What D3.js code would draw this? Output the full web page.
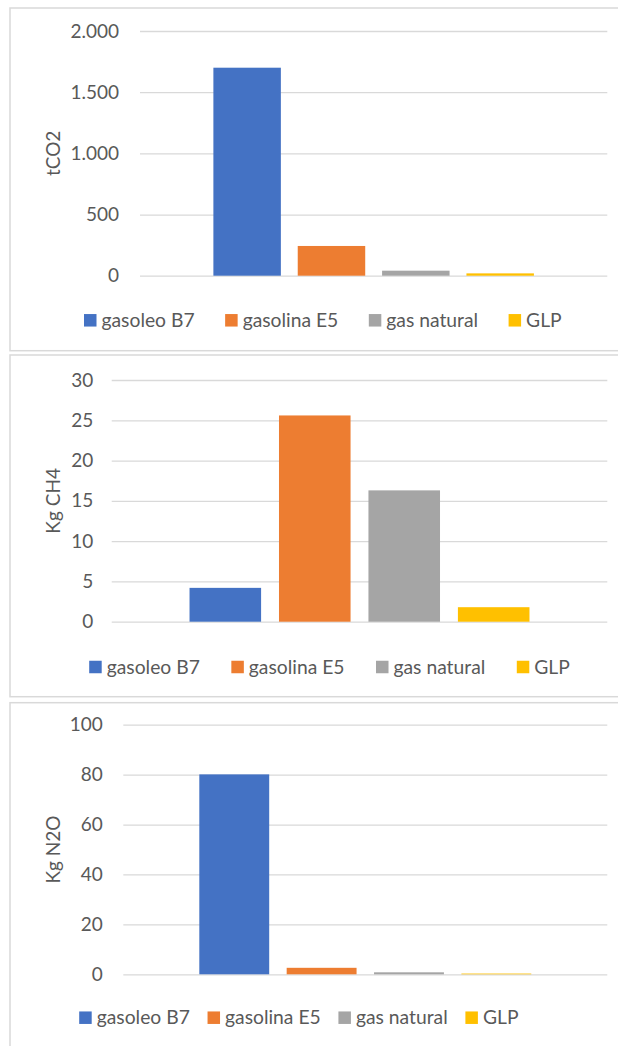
<!DOCTYPE html>
<html>
<head>
<meta charset="utf-8">
<script src="https://cdn.jsdelivr.net/npm/d3@7"></script>
<style>
  html, body { margin: 0; padding: 0; background: #ffffff; }
  svg { display: block; }
  text { font-family: Lato, "Open Sans", sans-serif; fill: #595959; }
</style>
</head>
<body>
<svg id="chart" width="618" height="1046"></svg>
<script>
// Fuel types shared by the three emission charts
const fuels = ["gasoleo B7", "gasolina E5", "gas natural", "GLP"];
const fuelColors = ["#4472c4", "#ed7d31", "#a5a5a5", "#ffc000"];

// Emissions per fuel
const co2Values = [1700, 243, 41, 19];      // tCO2
const ch4Values = [4.2, 25.6, 16.3, 1.8];   // Kg CH4
const n2oValues = [80.1, 2.6, 0.8, 0.3];    // Kg N2O

// Value-axis ticks
const co2Ticks = [0, 500, 1000, 1500, 2000];
const ch4Ticks = [0, 5, 10, 15, 20, 25, 30];
const n2oTicks = [0, 20, 40, 60, 80, 100];

// Axis titles
const axisTitles = ["tCO2", "Kg CH4", "Kg N2O"];

// Spanish number format: "." as thousands separator
const esLocale = d3.formatLocale({ decimal: ",", thousands: ".", grouping: [3], currency: ["", " €"] });
const fmt = esLocale.format(",d");

// Panel layout (frame, plot area, legend placement)
const panels = [
  { values: co2Values, ticks: co2Ticks, title: axisTitles[0],
    frame: { x: 10, y: 8, w: 640, h: 342.7 },
    plot: { left: 140, right: 607.3, top: 31, bottom: 275.7 }, labelGap: 21,
    legend: { y: 320.3, x: 84, gap: 30.5 } },
  { values: ch4Values, ticks: ch4Ticks, title: axisTitles[1],
    frame: { x: 10, y: 355, w: 640, h: 341.7 },
    plot: { left: 111.7, right: 607.3, top: 380, bottom: 621.7 }, labelGap: 18.4,
    legend: { y: 667, x: 89.2, gap: 31.5 } },
  { values: n2oValues, ticks: n2oTicks, title: axisTitles[2],
    frame: { x: 10, y: 702.7, w: 640, h: 400 },
    plot: { left: 123.3, right: 607.3, top: 724.7, bottom: 974.3 }, labelGap: 20.6,
    legend: { y: 1017.7, x: 79.2, gap: 17.7 } }
];

const svg = d3.select("#chart");
const tickFont = 19, legendFont = 19.3, swatch = 12.5;

panels.forEach(p => {
  const g = svg.append("g");

  // chart frame
  g.append("rect")
    .attr("x", p.frame.x).attr("y", p.frame.y)
    .attr("width", p.frame.w).attr("height", p.frame.h)
    .attr("fill", "#ffffff").attr("stroke", "#d9d9d9").attr("stroke-width", 1.5);

  const x = d3.scaleBand()
    .domain(fuels)
    .range([p.plot.left, p.plot.right])
    .paddingInner(0.2).paddingOuter(0.87);

  const y = d3.scaleLinear()
    .domain([0, d3.max(p.ticks)])
    .range([p.plot.bottom, p.plot.top]);

  // value axis with gridlines
  const axis = g.append("g")
    .attr("transform", `translate(${p.plot.left},0)`)
    .call(d3.axisLeft(y)
      .tickValues(p.ticks)
      .tickFormat(fmt)
      .tickSize(-(p.plot.right - p.plot.left))
      .tickPadding(p.labelGap));
  axis.select(".domain").remove();
  axis.selectAll(".tick line").attr("stroke", "#d9d9d9").attr("stroke-width", 1.3);
  axis.selectAll(".tick text")
    .attr("fill", "#595959")
    .style("font-family", "Lato, 'Open Sans', sans-serif")
    .style("font-size", tickFont + "px");

  // bars
  g.append("g").selectAll("rect")
    .data(fuels.map((f, i) => ({ fuel: f, value: p.values[i], color: fuelColors[i] })))
    .join("rect")
    .attr("x", d => x(d.fuel))
    .attr("width", x.bandwidth())
    .attr("y", d => y(d.value))
    .attr("height", d => y(0) - y(d.value))
    .attr("fill", d => d.color);

  // rotated axis title
  g.append("text")
    .attr("transform", `translate(60,${(p.plot.top + p.plot.bottom) / 2}) rotate(-90)`)
    .attr("text-anchor", "middle")
    .style("font-size", tickFont + "px")
    .text(p.title);

  // legend
  let lx = p.legend.x;
  const lg = g.append("g");
  fuels.forEach((f, i) => {
    lg.append("rect")
      .attr("x", lx).attr("y", p.legend.y - swatch / 2)
      .attr("width", swatch).attr("height", swatch)
      .attr("fill", fuelColors[i]);
    const t = lg.append("text")
      .attr("x", lx + 17.5)
      .attr("y", p.legend.y + legendFont * 0.34)
      .style("font-size", legendFont + "px")
      .text(f);
    lx += 17.5 + t.node().getComputedTextLength() + p.legend.gap;
  });
});
</script>
</body>
</html>
